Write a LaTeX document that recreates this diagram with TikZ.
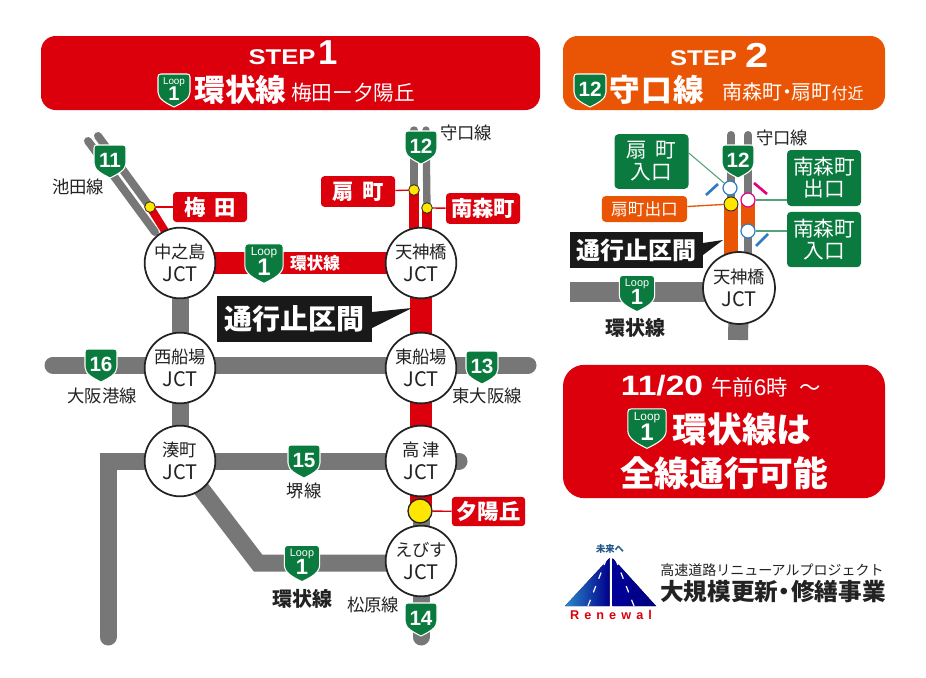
\documentclass[tikz,border=0pt]{standalone}
\usepackage{fontspec}
\setmainfont{Noto Sans CJK JP}
\newfontfamily\lat{Liberation Sans}
\newfontfamily\latw[FakeStretch=1.2]{Liberation Sans}
\usetikzlibrary{shapes.geometric,calc}
\definecolor{rd}{HTML}{DC000C}
\definecolor{og}{HTML}{E95504}
\definecolor{gn}{HTML}{0B7A3E}
\definecolor{gy}{HTML}{777777}
\definecolor{yl}{HTML}{FFE600}
\definecolor{bl}{HTML}{2F7CC4}
\definecolor{pk}{HTML}{E4007F}
\definecolor{ink}{HTML}{222222}
\pgfdeclarelayer{bg}
\pgfsetlayers{bg,main}
\newcommand\fz[1]{\fontsize{#1}{#1}\selectfont}
\newcommand\jl{\\[2.5pt]\raisebox{-1.5pt}{\fz{15}JCT}}
\newcommand\shld[5]{%
 \begin{scope}[shift={(#2,#3)},scale=#4]
 \path[fill=gn,draw=white,line width=0.8pt] (-13,-16) -- (13,-16) .. controls (15,-16) and (16,-15) .. (16,-13) -- (16,2) .. controls (16,9) and (8,13) .. (0,17) .. controls (-8,13) and (-16,9) .. (-16,2) -- (-16,-13) .. controls (-16,-15) and (-15,-16) .. (-13,-16) -- cycle;
 \end{scope}
 \node[inner sep=0pt,text=white,align=center] (#1) at (#2,#3) {#5};}
\newcommand\numsh[4]{\shld{#1}{#2}{#3}{1}{\raisebox{1pt}{\lat\bfseries\fz{15.5}#4}}}
\newcommand\loopsh[4]{%
 \pgfmathsetmacro\lsa{#4*7.4}\pgfmathsetmacro\lsb{#4*15}\pgfmathsetmacro\lsc{#4*4.5}\pgfmathsetmacro\lsd{#4*7.5}%
 \shld{#1}{#2}{#3}{#4}{\lat\fz{\lsa}\raisebox{\lsc pt}[0pt][0pt]{\makebox[0pt]{Loop}}\raisebox{-\lsd pt}[0pt][0pt]{\makebox[0pt]{\bfseries\fz{\lsb}1}}}}
\tikzset{
 road/.style={gy,line width=12.75pt},
 jct/.style={circle,draw=ink,line width=1.3pt,fill=white,minimum size=53pt,inner sep=0pt,align=center,text=ink,font=\fz{13}},
 tag/.style={rectangle,rounded corners=2.5pt,fill=rd,text=white,font=\bfseries\fz{16},inner sep=0pt},
 gtag/.style={rectangle,rounded corners=3pt,fill=gn,text=white,font=\fz{15.5},inner sep=0pt,align=center,minimum width=55.5pt},
 lbl/.style={text=ink,inner sep=0pt,font=\fz{13}},
 lblb/.style={text=ink,inner sep=0pt,font=\bfseries\fz{15}},
 ydot/.style={circle,fill=yl,draw=ink,line width=0.6pt,inner sep=0pt,minimum size=8pt},
 odot/.style={circle,fill=white,draw=#1,line width=0.9pt,inner sep=0pt,minimum size=10.5pt},
 blk/.style={rectangle,fill=black!90,text=white,inner sep=0pt,font=\bfseries}
}
\begin{document}
\begin{tikzpicture}[x=0.75pt,y=-0.75pt]
\useasboundingbox (0,0) rectangle (926,678);
% banners
\node[fill=rd,rounded corners=11pt,minimum width=374.25pt,minimum height=55.5pt,inner sep=0pt] (b1) at (290.5,73) {};
\node[fill=og,rounded corners=11pt,minimum width=241.5pt,minimum height=55.5pt,inner sep=0pt] (b2) at (724,73) {};
\node[inner sep=0pt,text=white] (s1) at (282,57) {\latw\bfseries\fz{16}STEP};
\node[inner sep=0pt,text=white] (s1n) at (328,53) {\lat\bfseries\fz{26}1};
\loopsh{sh1}{174}{90}{1}
\node[inner sep=0pt,text=white] (t1) at (240.5,90) {\bfseries\fz{23}環状線};
\node[inner sep=0pt,text=white] (t1b) at (353,93) {\fz{15.5}梅田ー夕陽丘};
\node[inner sep=0pt,text=white] (s2) at (703.5,58) {\latw\bfseries\fz{16}STEP};
\node[inner sep=0pt,text=white] (s2n) at (757,55) {\latw\bfseries\fz{26}2};
\numsh{sh2}{590}{90}{12}
\node[inner sep=0pt,text=white] (t2) at (657,90) {\bfseries\fz{23}守\hspace{1pt}口\hspace{1pt}線};
\node[inner sep=0pt,text=white] (t2b) at (793,92) {\fz{15}南森町\hspace{-4pt}・\hspace{-4pt}扇町\fz{12}付近};
% left map JCTs
\node[jct] (nak) at (180,263) {中之島\jl};
\node[jct] (ten) at (421,263) {天神橋\jl};
\node[jct] (nis) at (180,368) {西船場\jl};
\node[jct] (hig) at (421,368) {東船場\jl};
\node[jct] (min) at (180,461) {湊町\jl};
\node[jct] (koz) at (421,461) {高\hspace{2pt}津\jl};
\node[jct] (ebi) at (421,561) {えびす\jl};
\coordinate (r16a) at (53,365); \coordinate (r16b) at (528,365);
\coordinate (kr) at (459,461); \coordinate (cn) at (108,461); \coordinate (cs) at (108,637);
\coordinate (el) at (258,563); \coordinate (s14) at (421,637);
\coordinate (a1) at (88,141); \coordinate (a2) at (98,136); \coordinate (a3) at (168,236);
\coordinate (a4) at (155,232);
\coordinate (m1) at (414,130); \coordinate (m2) at (426,130); \coordinate (m1b) at (414,240); \coordinate (m2b) at (427,240);
\node[ydot] (yu) at (150,207) {};
\node[ydot] (yo) at (414,190) {};
\node[ydot] (ym) at (427,208) {};
\node[ydot,minimum size=18pt,line width=1pt] (yy) at (420,511) {};
\node[tag,minimum width=55.5pt,minimum height=22.5pt] (lu) at (210,207) {梅\hspace{6pt}田};
\node[tag,minimum width=55.5pt,minimum height=23pt] (lo) at (358,191.5) {扇\hspace{6pt}町};
\node[tag,minimum width=55.5pt,minimum height=23pt] (lm) at (483,208.5) {南森町};
\node[tag,minimum width=55pt,minimum height=22pt] (ly) at (488.5,511.5) {夕陽丘};
\numsh{n11}{110}{161}{11}
\numsh{n12}{421}{147}{12}
\numsh{n16}{101}{365}{16}
\numsh{n13}{482}{367}{13}
\numsh{n15}{304}{461}{15}
\numsh{n14}{421}{619}{14}
\loopsh{l1a}{264}{263}{1.2}
\loopsh{l1b}{302}{563}{1.1}
\node[inner sep=0pt,text=white,font=\bfseries\fz{12.5}] (tk) at (315,263) {環状線};
\node[lbl] (x1) at (78,187) {池田線};
\node[lbl] (x2) at (466,133) {守口線};
\node[lbl] (x3) at (102,396) {大阪港線};
\node[lbl] (x4) at (487,396) {東大阪線};
\node[lbl] (x5) at (304,491) {堺線};
\node[lblb] (x6) at (302,599) {環状線};
\node[lbl] (x7) at (373,605) {松原線};
\node[blk,minimum width=116pt,minimum height=34.5pt,font=\bfseries\fz{21}] (st1) at (294.5,319) {通行止区間};
\coordinate (st1t) at (412,308);
\fill[black!90] (372,312) -- (st1t) -- (372,328) -- cycle;
% step 2 map
\node[jct,minimum size=54pt] (ten2) at (739,288) {天神橋\jl};
\coordinate (h1) at (570,292); \coordinate (v1) at (738,340);
\coordinate (p1) at (731,135); \coordinate (p2) at (748,135); \coordinate (p1b) at (731,262); \coordinate (p2b) at (748,262);
\node[odot=bl] (dA) at (730,188) {};
\node[ydot,minimum size=10.5pt] (dB) at (731,204) {};
\node[odot=pk] (dC) at (748,200) {};
\node[odot=bl] (dD) at (748,231) {};
\node[gtag,minimum height=41pt] (g1) at (651.5,161.5) {扇\hspace{6pt}町\\[1pt]入口};
\node[gtag,minimum height=42pt] (g2) at (824,178) {南森町\\[1pt]出口};
\node[gtag,minimum height=41.5pt] (g3) at (824,239.5) {南森町\\[1pt]入口};
\node[rectangle,rounded corners=3pt,fill=og,text=white,font=\fz{12.5},inner sep=0pt,minimum width=64pt,minimum height=19.5pt] (g4) at (644.5,209) {扇町出口};
\node[blk,minimum width=100pt,minimum height=27pt,font=\bfseries\fz{18}] (st2) at (636.5,250) {通行止区間};
\coordinate (st2t) at (723,240);
\fill[black!90] (703,243) -- (st2t) -- (703,255) -- cycle;
\numsh{n12b}{738}{161}{12}
\loopsh{l1c}{637}{293}{1.1}
\node[lbl] (x8) at (782,138) {守口線};
\node[lblb] (x9) at (635,328) {環状線};
\coordinate (tk1a) at (706,195); \coordinate (tk1b) at (718,184);
\coordinate (tk2a) at (754,183); \coordinate (tk2b) at (767,194);
\coordinate (tk3a) at (756,246); \coordinate (tk3b) at (768,234);
% notice
\node[fill=rd,rounded corners=16pt,minimum width=241.5pt,minimum height=100pt,inner sep=0pt] (nb) at (724,431.5) {};
\node[inner sep=0pt,text=white] (n1) at (721,386) {{\latw\bfseries\fz{21}11/20}\hspace{6pt}\fz{16}午前{\lat\fz{17}6}時\hspace{9pt}～};
\loopsh{l1d}{647}{428}{1.2}
\node[inner sep=0pt,text=white] (n2) at (742,429) {\bfseries\fz{26}環状線は};
\node[inner sep=0pt,text=white] (n3) at (724,473) {\bfseries\fz{26}全線通行可能};
% logo
\fill[left color=bl!90!cyan,right color=blue!55!black] (565,606) -- (609.5,558) -- (609.5,606) -- cycle;
\fill[left color=blue!60!black,right color=blue!50!black] (612.5,606) -- (612.5,558) -- (656,606) -- cycle;
\coordinate (la) at (588,606); \coordinate (lb) at (606,560); \coordinate (lc) at (634,606); \coordinate (ld) at (616,560);
\draw[white,line width=0.9pt,dash pattern=on 5pt off 6pt] (la) -- (lb);
\draw[white,line width=0.9pt,dash pattern=on 5pt off 6pt] (lc) -- (ld);
\node[inner sep=0pt,text=bl!70!black] (lg1) at (610,549) {\bfseries\fz{7}未来へ};
\node[inner sep=0pt,text=rd] (lg2) at (611,615) {\lat\bfseries\fz{9.5}\addfontfeature{LetterSpace=40}Renewal};
\node[lbl,anchor=west,font=\fz{10.5}] (lg3) at (660,570) {高速道路リニューアルプロジェクト};
\node[lbl,anchor=west,font=\bfseries\fz{17.7}] (lg4) at (660,592) {大規模更新\hspace{-4pt}・\hspace{-4pt}修繕事業};
% background layer
\begin{pgfonlayer}{bg}
\fill[white] (0,0) rectangle (926,678);
\draw[road] (nak.center) -- (nis.center);
\draw[road] (nis.center) -- (min.center);
\draw[road,line cap=round] (r16a) -- (r16b);
\draw[road,line cap=round] (min.center) -- (kr);
\draw[road,line join=miter,line cap=round] (min.center) -- (cn) -- (cs);
\draw[road,line join=miter] (min.center) -- (el) -- (el -| ebi.center);
\draw[road,line cap=round] (ebi.center) -- (s14);
\draw[rd,line width=16pt] (nak.center) -- (ten.center);
\draw[rd,line width=16pt] (ten.center) -- (yy.center -| ten.center);
\draw[road] (yy.center -| ebi.center) -- (ebi.center);
\draw[gy,line width=6pt,line cap=round] (a1) -- (a4);
\draw[gy,line width=6pt,line cap=round] (a2) -- (yu.center);
\draw[rd,line width=6pt] (yu.center) -- (a3);
\draw[gy,line width=5.5pt,line cap=round] (m1) -- (yo.center);
\draw[gy,line width=5.5pt,line cap=round] (m2) -- (ym.center);
\draw[rd,line width=8pt] (yo.center) -- (m1b);
\draw[rd,line width=8pt] (ym.center) -- (m2b);
\draw[rd,line width=1pt] (yu) -- (lu);
\draw[rd,line width=1pt] (yo) -- (lo);
\draw[rd,line width=1pt] (ym) -- (lm);
\draw[rd,line width=1pt] (yy) -- (ly);
% step 2
\draw[gy,line width=15pt] (h1) -- (h1 -| ten2.center);
\draw[gy,line width=15pt] (ten2.center) -- (v1);
\draw[gy,line width=6pt,line cap=round] (p1) -- (dB.center);
\draw[gy,line width=6pt,line cap=round] (p2) -- (p2b);
\draw[og,line width=10.5pt] (dB.center) -- (p1b);
\draw[og,line width=10pt] (dC.center) -- (dD.center);
\draw[gn!70,line width=0.8pt] (g1.east |- 0,153) -- (dA);
\draw[og,line width=1pt] (g4) -- (dB);
\draw[gn!70,line width=0.8pt] (dC) -- (g2.west |- dC);
\draw[gn!70,line width=0.8pt] (dD) -- (g3.west |- dD);
\draw[bl,line width=2pt] (tk1a) -- (tk1b);
\draw[pk,line width=2pt] (tk2a) -- (tk2b);
\draw[bl,line width=2pt] (tk3a) -- (tk3b);
\end{pgfonlayer}
\end{tikzpicture}
\end{document}
